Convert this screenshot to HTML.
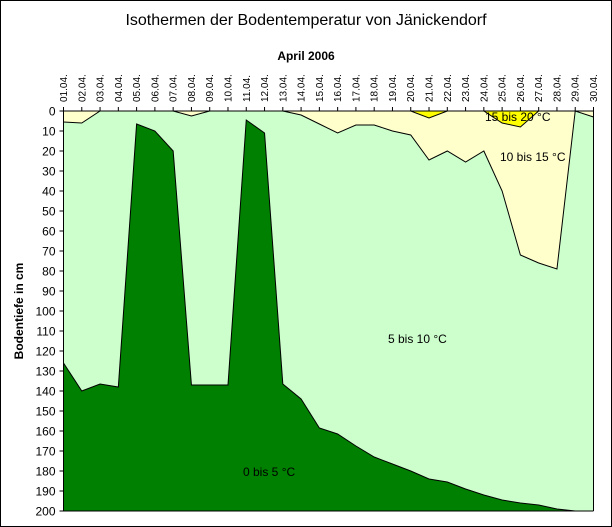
<!DOCTYPE html>
<html><head><meta charset="utf-8"><style>
body{margin:0;background:#fff}
svg{display:block;font-family:"Liberation Sans",Arial,sans-serif}
</style></head><body>
<svg id="chart" width="612" height="527" viewBox="0 0 612 527" xmlns="http://www.w3.org/2000/svg">
<rect x="0.5" y="0.5" width="611" height="526" fill="#fff" stroke="#000"/>
<text x="306" y="25" font-size="16" text-anchor="middle">Isothermen der Bodentemperatur von Jänickendorf</text>
<text x="306" y="60" font-size="12" font-weight="bold" text-anchor="middle">April 2006</text>
<text transform="translate(23,311) rotate(-90)" font-size="12" font-weight="bold" text-anchor="middle">Bodentiefe in cm</text>
<g id="plot"></g>
<g id="axes"></g>
</svg>
<script>
const days = ["01.04.","02.04.","03.04.","04.04.","05.04.","06.04.","07.04.","08.04.","09.04.","10.04.","11.04.","12.04.","13.04.","14.04.","15.04.","16.04.","17.04.","18.04.","19.04.","20.04.","21.04.","22.04.","23.04.","24.04.","25.04.","26.04.","27.04.","28.04.","29.04.","30.04."];
const iso20 = [0,0,0,0,0,0,0,0,0,0,0,0,0,0,0,0,0,0,0,0,3.5,0,0,0,6,8,0,0,0,0];
const iso15 = [5.5,6,0,0,0,0,0,2.5,0,0,0,0,0,2,6.5,11,7,7,10,12,24.5,20,25.5,20,40,72,76,79,0,3];
const iso5 = [126,140,136.5,138,6.5,10,20,137,137,137,4.5,11,136.5,144,158.5,161.5,167.5,173,176.5,180,184,185.5,189,192,194.5,196,197,199,200,200];
const yTicks = [0,10,20,30,40,50,60,70,80,90,100,110,120,130,140,150,160,170,180,190,200];

const X0=63.5, X1=593.5, Y0=111, Y1=511, DMAX=200;
const xs = i => X0 + i*(X1-X0)/(days.length-1);
const ys = d => Y0 + d*(Y1-Y0)/DMAX;
const NS="http://www.w3.org/2000/svg";
const plot=document.getElementById('plot'), axes=document.getElementById('axes');
function mk(tag,attrs,parent){const e=document.createElementNS(NS,tag);for(const k in attrs)e.setAttribute(k,attrs[k]);parent.appendChild(e);return e;}

const bg=mk('rect',{x:X0,y:Y0,width:X1-X0,height:Y1-Y0,fill:'#FFFFCC'},plot);



function areaBelow(arr,fill,name){
  let d=`M${xs(0)},${Y1}`;
  arr.forEach((v,i)=>{d+=` L${xs(i)},${ys(v)}`;});
  d+=` L${xs(arr.length-1)},${Y1} Z`;
  const p=mk('path',{d:d,fill:fill,stroke:'none'},plot);
  
  
  let l='';arr.forEach((v,i)=>{l+=(i?' L':'M')+xs(i)+','+ys(v);});
  const ln=mk('path',{d:l,fill:'none',stroke:'#000','stroke-width':1},plot);
  
  
}
function areaAbove(arr,fill,name){
  let d=`M${xs(0)},${Y0}`;
  arr.forEach((v,i)=>{d+=` L${xs(i)},${ys(v)}`;});
  d+=` L${xs(arr.length-1)},${Y0} Z`;
  const p=mk('path',{d:d,fill:fill,stroke:'#000','stroke-width':1},plot);
  
  
}
areaBelow(iso15,'#CCFFCC','area-5-10');
areaBelow(iso5,'#008000','area-0-5');
areaAbove(iso20,'#FFFF00','area-15-20');

const labels=[["15 bis 20 °C",485,121],["10 bis 15 °C",500,161],["5 bis 10 °C",388,343],["0 bis 5 °C",243,476]];
labels.forEach(l=>{const t=mk('text',{x:l[1],y:l[2],'font-size':12},plot);t.textContent=l[0];

});

const ax=mk('path',{d:`M${X0},${Y0} L${X1},${Y0} L${X1},${Y1} M${X0},${Y0} L${X0},${Y1} L${X1},${Y1}`,stroke:'#000',fill:'none','stroke-width':1},axes);



yTicks.forEach(v=>{
  const y=ys(v);
  const tk=mk('line',{x1:X0-4,x2:X0,y1:y,y2:y,stroke:'#000'},axes);
  
  
  const t=mk('text',{x:X0-8,y:y+4.5,'font-size':12,'text-anchor':'end'},axes);t.textContent=v;
  
  
});
days.forEach((d,i)=>{
  const x=xs(i);
  const tk=mk('line',{x1:x,x2:x,y1:Y0-4,y2:Y0,stroke:'#000'},axes);
  
  
  const t=mk('text',{transform:`translate(${x+3.5},${Y0-9}) rotate(-90)`,'font-size':10},axes);t.textContent=d;
  
  
});
</script>
</body></html>
